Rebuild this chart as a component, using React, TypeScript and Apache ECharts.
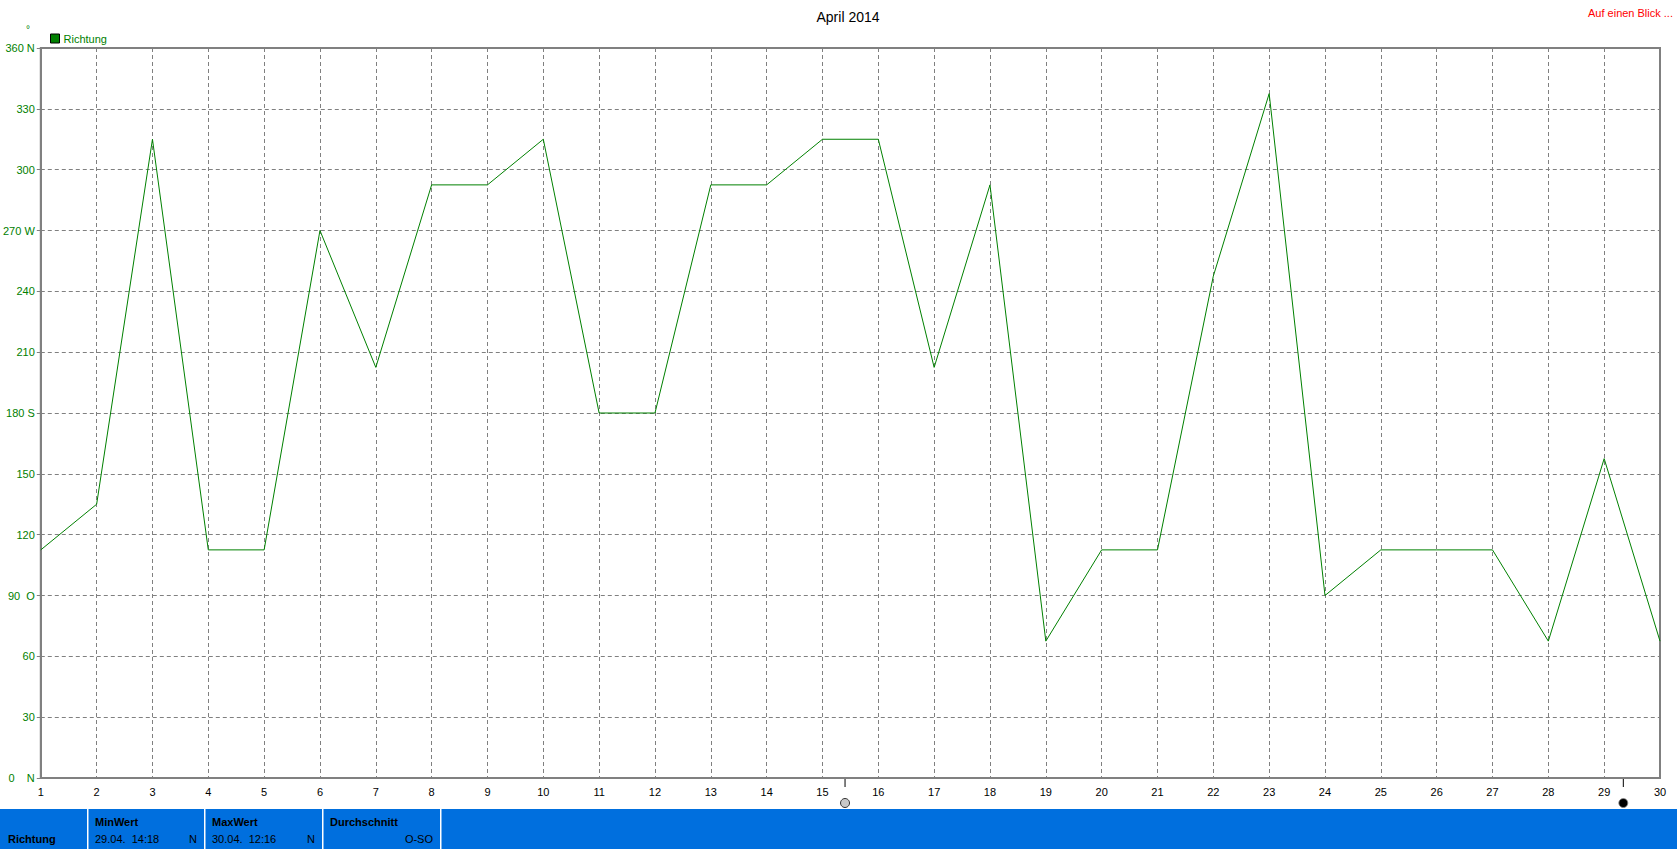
import React, { useEffect, useRef } from "react";
import * as echarts from "echarts";

const days = [1,2,3,4,5,6,7,8,9,10,11,12,13,14,15,16,17,18,19,20,21,22,23,24,25,26,27,28,29,30];
const richtung = [112.5,135,315,112.5,112.5,270,202.5,292.5,292.5,315,180,180,292.5,292.5,315,315,202.5,292.5,67.5,112.5,112.5,247.5,337.5,90,112.5,112.5,112.5,67.5,157.5,67.5];
const yTicks = [0,30,60,90,120,150,180,210,240,270,300,330,360];
const yTickLabels: Record<number,string> = { 0: "0    N", 90: "90  O", 180: "180 S", 270: "270 W", 360: "360 N" };
const moonTimes = [15.404, 29.343];
const moonKinds = ["full", "new"];
const statTitles = ["MinWert", "MaxWert", "Durchschnitt"];
const statValues = ["29.04.  14:18", "30.04.  12:16", ""];
const statUnits = ["N", "N", "O-SO"];

const FONT = "Liberation Sans, Arial, sans-serif";
const GREEN = "#008000";
const GRAY = "#808080";
const BLUE = "#006FDE";

export default function App() {
  const ref = useRef<HTMLDivElement>(null);
  useEffect(() => {
    if (!ref.current) return;
    const chart = echarts.init(ref.current, null, { renderer: "svg" });
    const option: any = {
      animation: false,
      backgroundColor: "#ffffff",
      textStyle: { fontFamily: FONT },
      title: {
        text: "April 2014",
        left: 843, textAlign: "center", top: 5,
        textStyle: { fontSize: 14, fontWeight: "normal", color: "#000", fontFamily: FONT },
      },
      legend: {
        left: 50, top: 33, padding: 0, itemWidth: 9, itemHeight: 9, itemGap: 4,
        icon: "rect",
        data: [{ name: "Richtung", itemStyle: { color: GREEN, borderColor: "#000", borderWidth: 1 } }],
        textStyle: { color: GREEN, fontSize: 11, fontFamily: FONT, padding: [0, 0, 0, -1] },
        selectedMode: false,
      },
      grid: {
        left: 40, top: 48, right: 17, bottom: 71,
        show: true, borderColor: GRAY, borderWidth: 2, backgroundColor: "transparent",
      },
      xAxis: {
        type: "value", min: 1, max: 30, interval: 1,
        axisLine: { show: true, lineStyle: { color: GRAY, width: 2 } },
        axisTick: { show: false },
        axisLabel: { color: "#000", fontSize: 11, fontFamily: FONT, margin: 8 },
        splitLine: { show: true, lineStyle: { color: GRAY, type: [4, 3], width: 1 } },
      },
      yAxis: {
        type: "value", min: 0, max: 360, interval: 30,
        axisLine: { show: true, lineStyle: { color: GRAY, width: 2 } },
        axisTick: { show: true, length: 4, lineStyle: { color: GRAY } },
        axisLabel: {
          color: GREEN, fontSize: 11, fontFamily: FONT, margin: 6,
          formatter: (v: number) => (yTickLabels[v] !== undefined ? yTickLabels[v] : yTicks.includes(v) ? String(v) : ""),
        },
        splitLine: { show: true, lineStyle: { color: GRAY, type: [4, 3], width: 1 } },
      },
      series: [
        {
          name: "Richtung", type: "line",
          data: days.map((d, i) => [d, richtung[i]]),
          symbol: "none",
          lineStyle: { color: GREEN, width: 1 },
          itemStyle: { color: GREEN },
        },
      ],
    };
    chart.setOption(option);

    const W = 1677, H = 849;
    const panelTop = 809;
    const seps = [88, 205, 323, 441];
    const graphics: any[] = [];
    graphics.push({ type: "rect", shape: { x: 0, y: panelTop, width: W, height: H - panelTop }, style: { fill: BLUE } });
    seps.forEach((x) => graphics.push({ type: "rect", shape: { x: x - 1, y: panelTop, width: 1.5, height: H - panelTop }, style: { fill: "#ffffff" } }));
    graphics.push({ type: "text", x: 8, y: 839, style: { text: "Richtung", font: `bold 11px ${FONT}`, fill: "#000", textVerticalAlign: "middle" } });
    statTitles.forEach((t, i) => {
      const x0 = seps[i] + 7;
      const x1 = seps[i + 1] - 8;
      graphics.push({ type: "text", x: x0, y: 822, style: { text: t, font: `bold 11px ${FONT}`, fill: "#000", textVerticalAlign: "middle" } });
      if (statValues[i]) graphics.push({ type: "text", x: x0, y: 839, style: { text: statValues[i], font: `11px ${FONT}`, fill: "#000", textVerticalAlign: "middle" } });
      graphics.push({ type: "text", x: x1, y: 839, style: { text: statUnits[i], font: `11px ${FONT}`, fill: "#000", textAlign: "right", textVerticalAlign: "middle" } });
    });
    graphics.push({ type: "text", x: 1673, y: 13, style: { text: "Auf einen Blick ...", font: `11px ${FONT}`, fill: "#ff0000", textAlign: "right", textVerticalAlign: "middle" } });
    graphics.push({ type: "text", x: 28, y: 29, style: { text: "°", font: `10px ${FONT}`, fill: GREEN, textAlign: "center", textVerticalAlign: "middle" } });
    const yAxisPix = chart.convertToPixel({ yAxisIndex: 0 }, 0) as number;
    moonTimes.forEach((t, i) => {
      const px = chart.convertToPixel({ xAxisIndex: 0 }, t) as number;
      graphics.push({ type: "line", shape: { x1: px, y1: yAxisPix, x2: px, y2: yAxisPix + 9 }, style: { stroke: "#000", lineWidth: 1 } });
      graphics.push({
        type: "circle", shape: { cx: px, cy: 803, r: 4.5 },
        style: moonKinds[i] === "full" ? { fill: "#c8c8c8", stroke: "#333", lineWidth: 1 } : { fill: "#000", stroke: "#888", lineWidth: 0.8 },
      });
    });
    chart.setOption({ graphic: graphics });
    return () => chart.dispose();
  }, []);
  return <div ref={ref} style={{ position: "absolute", left: 0, top: 0, width: 1677, height: 849 }} />;
}
